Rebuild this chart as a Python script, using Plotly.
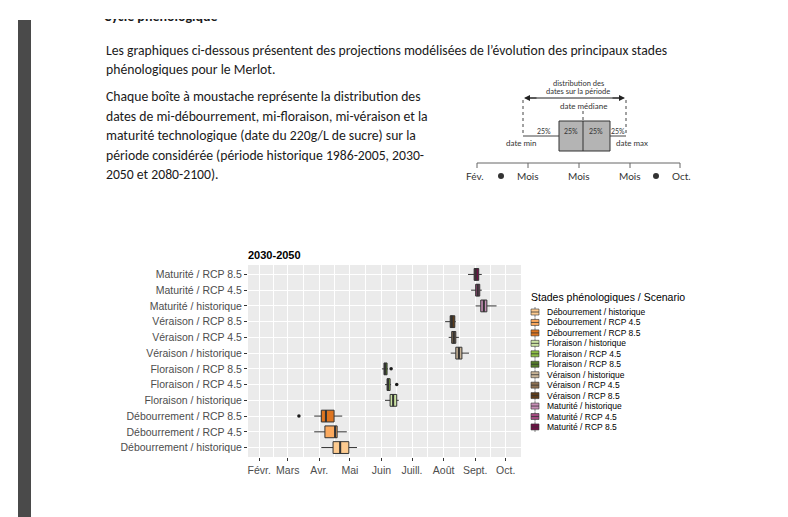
import plotly.graph_objects as go

W, H = 788, 517

# ---------------- data (day of year) ----------------
categories = ["Débourrement / historique", "Débourrement / RCP 4.5", "Débourrement / RCP 8.5",
              "Floraison / historique", "Floraison / RCP 4.5", "Floraison / RCP 8.5",
              "Véraison / historique", "Véraison / RCP 4.5", "Véraison / RCP 8.5",
              "Maturité / historique", "Maturité / RCP 4.5", "Maturité / RCP 8.5"]
colors = ["#FDCB90", "#FBA95E", "#DE7521", "#CBE3A2", "#8DBF45", "#557D2A",
          "#C8B497", "#8E7253", "#5E3D1B", "#C78FB7", "#A2497F", "#6E0F44"]
lower_whisker = [93, 86, 86, 155.5, 155.5, 152.5, 220, 218, 214.5, 244.5, 240, 237]
q1 = [104.5, 96.5, 93, 160.5, 157.5, 154.5, 225, 221, 219.5, 249.5, 244.5, 243]
median = [111.5, 106.5, 97.5, 163.5, 158.5, 155.5, 228, 223, 221, 252.5, 246.5, 244.5]
q3 = [120, 108.5, 105.5, 167, 160.5, 157.5, 231, 225, 224, 255.5, 248.5, 247.5]
upper_whisker = [128, 118, 113.5, 169, 161.5, 158.5, 238, 228, 225, 265, 250.5, 250.5]
outlier_category = ["Débourrement / RCP 8.5", "Floraison / RCP 4.5", "Floraison / RCP 8.5"]
outlier_day = [71, 167, 161.5]
month_days = [32, 60, 91, 121, 152, 182, 213, 244, 274]
month_labels = ["Févr.", "Mars", "Avr.", "Mai", "Juin", "Juill.", "Août", "Sept.", "Oct."]
panel_title = "2030-2050"
legend_title = "Stades phénologiques / Scenario"

doc_title = "Cycle phénologique"
doc_lines = [
    "Les graphiques ci-dessous présentent des projections modélisées de l’évolution des principaux stades",
    "phénologiques pour le Merlot.",
    "Chaque boîte à moustache représente la distribution des",
    "dates de mi-débourrement, mi-floraison, mi-véraison et la",
    "maturité technologique (date du 220g/L de sucre) sur la",
    "période considérée (période historique 1986-2005, 2030-",
    "2050 et 2080-2100).",
]

# ---------------- helpers (pixel -> paper) ----------------
def X(px):
    return px / W

def Y(py):
    return 1 - py / H

DOC_FONT = "Carlito, 'Liberation Sans Narrow', Lato, sans-serif"
AX_FONT = "'Liberation Sans', Arial, sans-serif"

fig = go.Figure()

pos = {c: i + 1 for i, c in enumerate(categories)}

# boxes
for i, cat in enumerate(categories):
    fig.add_trace(go.Box(
        y=[pos[cat]], q1=[q1[i]], median=[median[i]], q3=[q3[i]],
        lowerfence=[lower_whisker[i]], upperfence=[upper_whisker[i]],
        orientation="h", width=0.75, fillcolor=colors[i],
        line=dict(color="#333333", width=1), whiskerwidth=0,
        boxpoints=False, showlegend=False, hoverinfo="skip",
        xaxis="x", yaxis="y"))

# thick medians (ggplot fatten)
mx, my = [], []
for i, cat in enumerate(categories):
    mx += [median[i], median[i], None]
    my += [pos[cat] - 0.375, pos[cat] + 0.375, None]
fig.add_trace(go.Scatter(x=mx, y=my, mode="lines", line=dict(color="#333333", width=2),
                         showlegend=False, hoverinfo="skip"))

# outliers
fig.add_trace(go.Scatter(x=outlier_day, y=[pos[c] for c in outlier_category], mode="markers",
                         marker=dict(color="#1a1a1a", size=3.5), showlegend=False, hoverinfo="skip"))

# clipped document title (top is cut off)
fig.add_trace(go.Scatter(x=[96], y=[9], mode="text", text=[f"<b>{doc_title}</b>"],
                         textposition="middle right", textfont=dict(family=DOC_FONT, size=14, color="#1a1a1a"),
                         cliponaxis=True, showlegend=False, hoverinfo="skip",
                         xaxis="x2", yaxis="y2"))

mids = [(a + b) / 2 for a, b in zip(month_days[:-1], month_days[1:])]

fig.update_layout(
    width=W, height=H, margin=dict(l=0, r=0, t=0, b=0),
    template="none", paper_bgcolor="white", plot_bgcolor="rgba(0,0,0,0)",
    showlegend=False, font=dict(family=AX_FONT),
    xaxis=dict(domain=[X(240), X(513)], range=[21, 289], tickmode="array",
               tickvals=month_days, ticktext=month_labels, showgrid=True,
               gridcolor="white", gridwidth=1.1, ticks="outside", ticklen=3,
               tickcolor="#333333", tickwidth=1, tickfont=dict(size=10.5, color="#4D4D4D"),
               zeroline=False, showline=False, automargin=False,
               minor=dict(tickmode="array", tickvals=mids, showgrid=True, gridcolor="white",
                          gridwidth=0.5, ticks=""),
               anchor="y"),
    yaxis=dict(domain=[Y(449), Y(257)], range=[0.4, 12.6], tickmode="array",
               tickvals=[pos[c] for c in categories], ticktext=categories,
               showgrid=True, gridcolor="white", gridwidth=1.1, ticks="outside",
               ticklen=3, tickcolor="#333333", tickwidth=1,
               tickfont=dict(size=10.5, color="#4D4D4D"), zeroline=False,
               showline=False, automargin=False, anchor="x"),
    xaxis2=dict(domain=[0, 1], range=[0, W], visible=False, anchor="y2"),
    yaxis2=dict(domain=[Y(40), Y(11)], range=[40, 11], visible=False, anchor="x2"),
)

shapes = []
ann = []

# panel background (below grid lines)
shapes.append(dict(type="rect", xref="x domain", yref="y domain", x0=0, x1=1, y0=0, y1=1,
                   fillcolor="#EBEBEB", line=dict(width=0), layer="below"))

# left dark bar
shapes.append(dict(type="rect", xref="paper", yref="paper", x0=X(10), x1=X(23), y0=0, y1=Y(12),
                   fillcolor="#4a4a4a", line=dict(width=0), layer="below"))

# document text
line_y = [42, 61.5, 89, 108.5, 128, 147.5, 166.5]
for t, yy in zip(doc_lines, line_y):
    ann.append(dict(text=t, x=X(96), y=Y(yy), xref="paper", yref="paper", xanchor="left",
                    yanchor="middle", showarrow=False,
                    font=dict(family=DOC_FONT, size=13.7, color="#1a1a1a")))

# panel title
ann.append(dict(text=f"<b>{panel_title}</b>", x=X(238), y=Y(247), xref="paper", yref="paper",
                xanchor="left", yanchor="middle", showarrow=False,
                font=dict(family=AX_FONT, size=11, color="black")))

# manual legend
ann.append(dict(text=legend_title, x=X(521), y=Y(289), xref="paper", yref="paper",
                xanchor="left", yanchor="middle", showarrow=False,
                font=dict(family=AX_FONT, size=10.5, color="black")))
for k, cat in enumerate(categories):
    yc = 304 + k * 10.45
    shapes.append(dict(type="line", xref="paper", yref="paper", x0=X(527), x1=X(527),
                       y0=Y(yc - 5), y1=Y(yc + 5), line=dict(color="#333333", width=0.6)))
    shapes.append(dict(type="rect", xref="paper", yref="paper", x0=X(523), x1=X(531),
                       y0=Y(yc - 3), y1=Y(yc + 3), fillcolor=colors[k],
                       line=dict(color="#333333", width=0.6)))
    shapes.append(dict(type="line", xref="paper", yref="paper", x0=X(523), x1=X(531),
                       y0=Y(yc), y1=Y(yc), line=dict(color="#333333", width=0.8)))
    ann.append(dict(text=cat, x=X(537), y=Y(yc), xref="paper", yref="paper",
                    xanchor="left", yanchor="middle", showarrow=False,
                    font=dict(family=AX_FONT, size=8.5, color="black")))

# ---------------- explanatory diagram ----------------
DG = "#444444"
DF = "Lato, 'Liberation Sans', sans-serif"

def pline(x0, y0, x1, y1, dash="solid", width=1, color=DG):
    shapes.append(dict(type="line", xref="paper", yref="paper", x0=X(x0), x1=X(x1),
                       y0=Y(y0), y1=Y(y1), line=dict(color=color, width=width, dash=dash)))

def ptext(t, x, y, size=8, anchor="center"):
    ann.append(dict(text=t, x=X(x), y=Y(y), xref="paper", yref="paper", xanchor=anchor,
                    yanchor="middle", showarrow=False, font=dict(family=DF, size=size, color="#333333")))

ptext("distribution des", 570, 75, 7.5)
ptext("dates sur la période", 570, 83, 7.5)
pline(519, 90, 614, 90, width=1, color="#222222")
for xa, dx in [(516, 14), (617, -14)]:
    ann.append(dict(x=X(xa), y=Y(90), xref="paper", yref="paper", ax=dx, ay=0, text="",
                    showarrow=True, arrowhead=2, arrowsize=1.2, arrowwidth=1, arrowcolor="#222222"))
pline(515, 92, 515, 128, dash="dot")
pline(618, 92, 618, 128, dash="dot")
ptext("date médiane", 575, 98, 8)
pline(575, 103, 575, 113, dash="dot")
pline(515, 128, 551, 128)
pline(602, 128, 618, 128)
shapes.append(dict(type="rect", xref="paper", yref="paper", x0=X(551), x1=X(602),
                   y0=Y(143), y1=Y(113), fillcolor="#b4b4b4", line=dict(color="#333333", width=1)))
pline(575, 113, 575, 143, color="#333333")
for xx in [536, 563, 588, 610]:
    ptext("25%", xx, 123, 7)
ptext("date min", 513, 135, 8)
ptext("date max", 624, 135, 8)
pline(469, 155, 672, 155, color="#666666")
for xx in [469, 520, 571, 622, 672]:
    pline(xx, 155, xx, 160, color="#666666")
for t, xx in [("Fév.", 467), ("Mois", 520), ("Mois", 571), ("Mois", 622), ("Oct.", 673)]:
    ptext(t, xx, 168, 10)
for xx in [493, 648]:
    shapes.append(dict(type="circle", xref="paper", yref="paper", x0=X(xx - 3), x1=X(xx + 3),
                       y0=Y(171), y1=Y(165), fillcolor="#333333", line=dict(width=0)))

fig.update_layout(shapes=shapes, annotations=ann)
fig.write_html("out.html")
